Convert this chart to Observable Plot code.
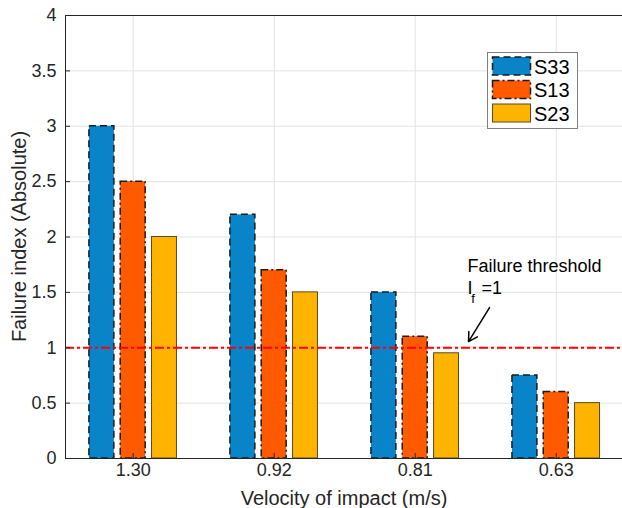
<!DOCTYPE html>
<html>
<head>
<meta charset="utf-8">
<script src="https://cdn.jsdelivr.net/npm/d3@7"></script>
<script src="https://cdn.jsdelivr.net/npm/@observablehq/plot@0.6"></script>
<style>
  html, body { margin: 0; padding: 0; background: #fff; }
  #chart svg { display: block; }
</style>
</head>
<body>
<div id="chart"></div>
<script>
// ---- data ----
const categories = ["1.30", "0.92", "0.81", "0.63"];
const seriesNames = ["S33", "S13", "S23"];
const s33 = [3.0, 2.2, 1.5, 0.75];
const s13 = [2.5, 1.7, 1.1, 0.6];
const s23 = [2.0, 1.5, 0.95, 0.5];
const yTicks = [0, 0.5, 1, 1.5, 2, 2.5, 3, 3.5, 4];
const xTicks = [1, 2, 3, 4];
const threshold = [1];
const annotationTitle = ["Failure threshold"];
const annotationI = ["I"];
const annotationSub = ["f"];
const annotationEq = ["=1"];
// annotation anchor points (data units)
const annotX = [3.37], annotYTitle = [1.734];
const annotIY = [1.541], annotSubX = [3.397], annotSubY = [1.444], annotEqX = [3.47];
const arrowFrom = [3.527, 1.363];
const arrowTo = [3.378, 1.056];

// ---- style ----
const fills = ["#0a84c9", "#ff5a00", "#ffb400"];
const strokes = ["#1a1a1a", "#1a1a1a", "#5a4a22"];
const dashes = ["7,4", "7,3,2,3", null];
const offsets = [-0.222, 0, 0.222];
const barW = 0.177;
const axisColor = "#262626";

const seriesValues = [s33, s13, s23];
const bars = seriesValues.map((vals, s) => vals.map((v, i) => ({
  series: seriesNames[s],
  x1: i + 1 + offsets[s] - barW / 2,
  x2: i + 1 + offsets[s] + barW / 2,
  value: v
})));

const font = "'Liberation Sans', Arial, Helvetica, sans-serif";

const svg = Plot.plot({
  width: 622,
  height: 508,
  marginLeft: 65,
  marginRight: 0,
  marginTop: 15,
  marginBottom: 50,
  style: { fontFamily: font, color: axisColor, background: "#fff" },
  x: { type: "linear", domain: [0.52, 4.47] },
  y: { domain: [0, 4] },
  marks: [
    Plot.gridY(yTicks, { stroke: "#e3e3e3", strokeOpacity: 1 }),
    Plot.gridX(xTicks, { stroke: "#e3e3e3", strokeOpacity: 1 }),
    ...bars.map((data, s) => Plot.rectY(data, {
      x1: "x1", x2: "x2", y1: 0, y2: "value",
      fill: fills[s], stroke: strokes[s],
      strokeWidth: s === 2 ? 1 : 1.5,
      strokeDasharray: dashes[s]
    })),
    Plot.ruleY(threshold, { stroke: "#ff0000", strokeWidth: 2.2, strokeDasharray: "9,3,3,3" }),
    Plot.ruleY([0, 4], { stroke: axisColor, strokeWidth: 1 }),
    Plot.ruleX([0.52], { stroke: axisColor, strokeWidth: 1 }),
    // inward tick marks (no labels)
    Plot.axisY(yTicks, { anchor: "left", tickSize: -5, stroke: axisColor, label: null, tickFormat: () => "" }),
    Plot.axisX(xTicks, { anchor: "bottom", tickSize: -5, stroke: axisColor, label: null, tickFormat: () => "" }),
    // tick labels
    Plot.text(yTicks, { y: d => d, text: d => String(d), frameAnchor: "left", textAnchor: "end", dx: -9, fontSize: 18, fill: axisColor }),
    Plot.text(xTicks, { x: d => d, text: d => categories[d - 1], frameAnchor: "bottom", dy: 17, fontSize: 18, fill: axisColor }),
    Plot.arrow([0], {
      x1: () => arrowFrom[0], y1: () => arrowFrom[1],
      x2: () => arrowTo[0], y2: () => arrowTo[1],
      stroke: "#000", strokeWidth: 1.5, headLength: 10, bend: 0
    }),
    Plot.text(annotationTitle, { x: annotX, y: annotYTitle, text: d => d, textAnchor: "start", fontSize: 18, fill: "#000" }),
    Plot.text(annotationI, { x: annotX, y: annotIY, text: d => d, textAnchor: "start", fontSize: 18, fill: "#000" }),
    Plot.text(annotationSub, { x: annotSubX, y: annotSubY, text: d => d, textAnchor: "start", fontSize: 13, fill: "#000" }),
    Plot.text(annotationEq, { x: annotEqX, y: annotIY, text: d => d, textAnchor: "start", fontSize: 18, fill: "#000" })
  ]
});

// axis titles
const sel = d3.select(svg);
sel.append("text")
  .attr("x", 344).attr("y", 505)
  .attr("text-anchor", "middle")
  .attr("font-size", 20).attr("fill", axisColor)
  .text("Velocity of impact (m/s)");
sel.append("text")
  .attr("transform", "translate(26,236.5) rotate(-90)")
  .attr("text-anchor", "middle")
  .attr("font-size", 20).attr("fill", axisColor)
  .text("Failure index (Absolute)");

// legend
const lg = sel.append("g");
lg.append("rect").attr("x", 487.5).attr("y", 52.5).attr("width", 90).attr("height", 76)
  .attr("fill", "#fff").attr("stroke", "#808080").attr("stroke-width", 1);
const swY = [57, 80.5, 104];
seriesNames.forEach((name, s) => {
  lg.append("rect").attr("x", 492.5).attr("y", swY[s]).attr("width", 38).attr("height", 18)
    .attr("fill", fills[s]).attr("stroke", strokes[s])
    .attr("stroke-width", s === 2 ? 1 : 1.5)
    .attr("stroke-dasharray", dashes[s]);
  lg.append("text").attr("x", 534).attr("y", swY[s] + 16.5)
    .attr("text-anchor", "start")
    .attr("font-size", 20).attr("fill", "#000").text(name);
});

document.getElementById("chart").appendChild(svg);
</script>
</body>
</html>
